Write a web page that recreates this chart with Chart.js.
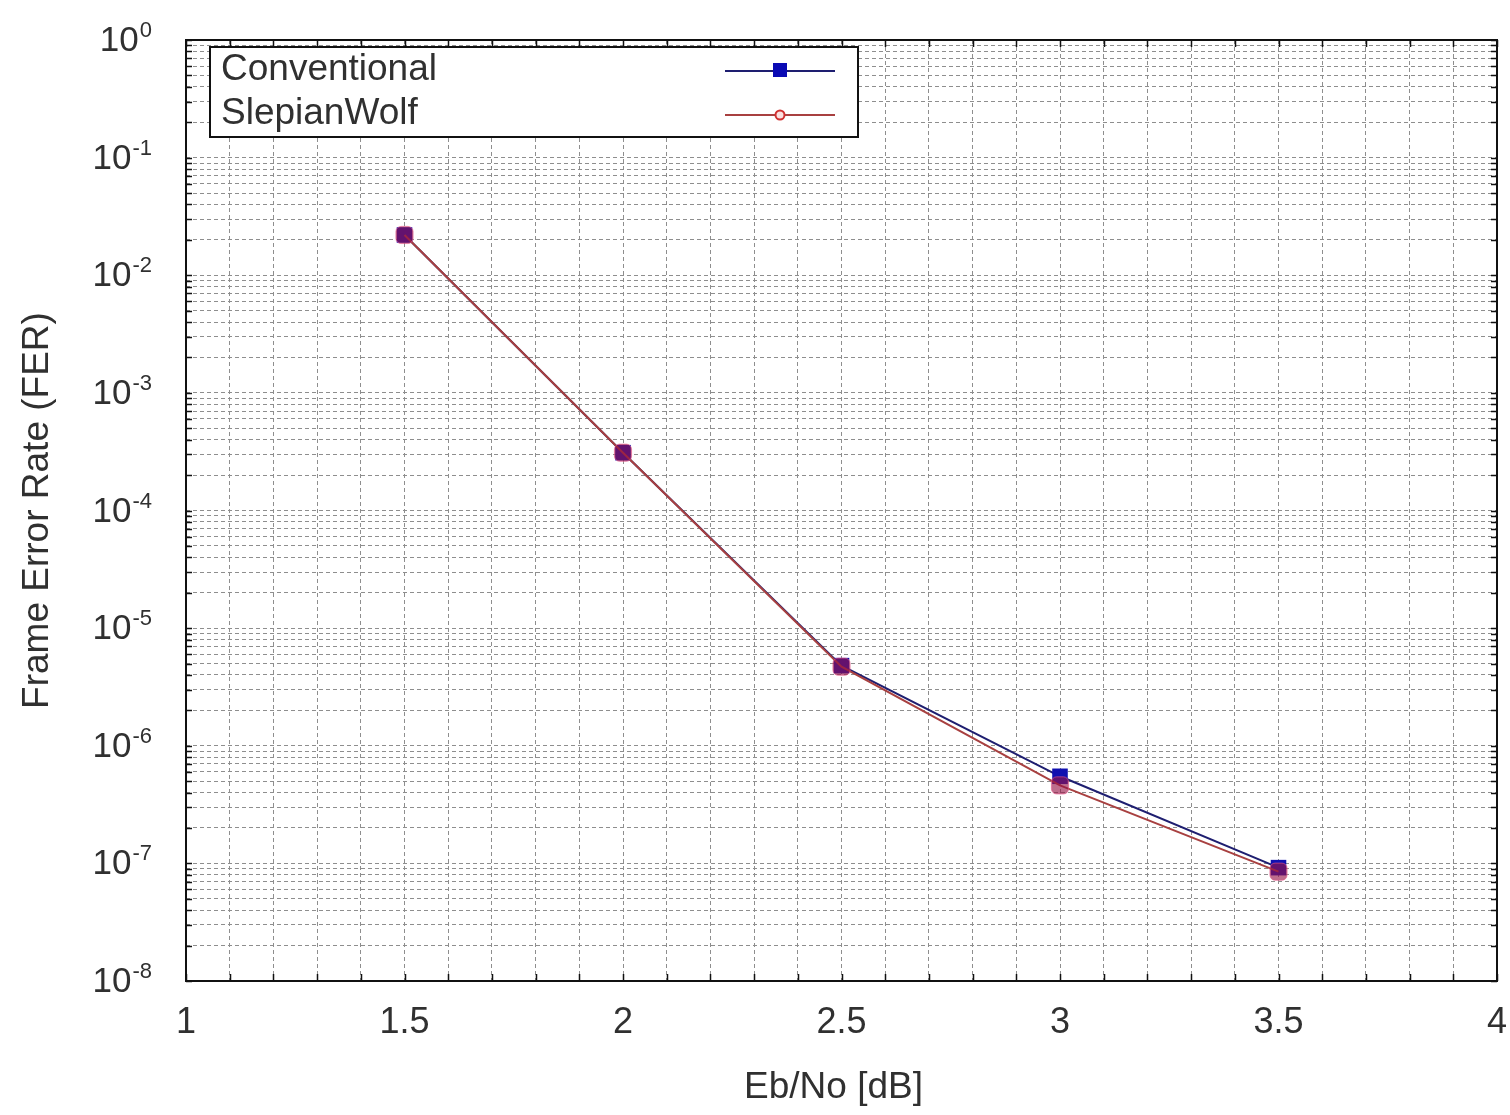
<!DOCTYPE html>
<html>
<head>
<meta charset="utf-8">
<script src="https://cdn.jsdelivr.net/npm/chart.js@4/dist/chart.umd.min.js"></script>
<style>
html,body{margin:0;padding:0;background:#fff;}
#wrap{width:1510px;height:1115px;position:relative;}
canvas{display:block;}
</style>
</head>
<body>
<div id="wrap"><canvas id="c" width="1510" height="1115"></canvas></div>
<script>
// ---- data ----
const ebno = [1.5, 2.0, 2.5, 3.0, 3.5];
const conventional = [2.2e-2, 3.1e-4, 4.8e-6, 5.5e-7, 9.2e-8];
const slepianWolf = [2.2e-2, 3.1e-4, 4.7e-6, 4.6e-7, 8.5e-8];
const seriesNames = ['Conventional', 'SlepianWolf'];
const xTickLabels = ['1', '1.5', '2', '2.5', '3', '3.5', '4'];
const yExponents = [0, -1, -2, -3, -4, -5, -6, -7, -8];
const xTitle = 'Eb/No [dB]';
const yTitle = 'Frame Error Rate (FER)';

const FONT = "'Liberation Sans', Arial, sans-serif";
const TEXT = '#303030';

const xMin = 1, xMax = 4;
const xGridValues = [];
for (let i = 10; i <= 40; i++) xGridValues.push(i / 10);
const yGridValues = [];
for (let e = -8; e <= 0; e++) {
  for (let m = 1; m <= 9; m++) {
    const v = m * Math.pow(10, e);
    if (v <= 1.0000001) yGridValues.push(v);
  }
}

const decorPlugin = {
  id: 'decor',
  beforeDraw(chart) {
    const ctx = chart.ctx;
    ctx.save();
    ctx.fillStyle = '#fff';
    ctx.fillRect(0, 0, chart.width, chart.height);
    ctx.restore();
  },
  afterDatasetsDraw(chart) {
    const ctx = chart.ctx;
    const a = chart.chartArea;
    const xs = chart.scales.x, ys = chart.scales.y;
    ctx.save();
    // frame
    ctx.strokeStyle = '#111';
    ctx.lineWidth = 2;
    ctx.strokeRect(a.left, a.top, a.right - a.left, a.bottom - a.top);
    // inward ticks
    ctx.lineWidth = 1.5;
    xGridValues.forEach(v => {
      const px = Math.round(xs.getPixelForValue(v)) + 0.5;
      ctx.beginPath();
      ctx.moveTo(px, a.bottom); ctx.lineTo(px, a.bottom - 7);
      ctx.moveTo(px, a.top); ctx.lineTo(px, a.top + 7);
      ctx.stroke();
    });
    yGridValues.forEach(v => {
      const py = Math.round(ys.getPixelForValue(v)) + 0.5;
      ctx.beginPath();
      ctx.moveTo(a.left, py); ctx.lineTo(a.left + 6, py);
      ctx.moveTo(a.right, py); ctx.lineTo(a.right - 6, py);
      ctx.stroke();
    });

    // legend box
    const lx = a.left + 24, ly = a.top + 7, lw = 648, lh = 90;
    ctx.fillStyle = '#fff';
    ctx.fillRect(lx, ly, lw, lh);
    ctx.strokeStyle = '#111';
    ctx.lineWidth = 2;
    ctx.strokeRect(lx, ly, lw, lh);
    ctx.font = '37px ' + FONT;
    ctx.textBaseline = 'middle';
    ctx.textAlign = 'left';
    chart.data.datasets.forEach((ds, i) => {
      const ry = ly + 23 + i * 44;
      ctx.fillStyle = TEXT;
      ctx.fillText(ds.label, lx + 11, ry);
      ctx.strokeStyle = ds.borderColor;
      ctx.lineWidth = 2;
      ctx.beginPath();
      ctx.moveTo(lx + 515, ry + 1); ctx.lineTo(lx + 625, ry + 1);
      ctx.stroke();
      const mx = lx + 570;
      if (i === 0) {
        ctx.fillStyle = '#0a0ab4';
        ctx.fillRect(mx - 7, ry - 7, 14, 14);
      } else {
        ctx.beginPath();
        ctx.arc(mx, ry + 1, 4.5, 0, Math.PI * 2);
        ctx.fillStyle = '#fbe0e0';
        ctx.fill();
        ctx.strokeStyle = '#d03030';
        ctx.lineWidth = 2;
        ctx.stroke();
      }
    });
    ctx.restore();
  },
  afterDraw(chart) {
    const ctx = chart.ctx;
    const a = chart.chartArea;
    const xs = chart.scales.x, ys = chart.scales.y;
    ctx.save();
    ctx.fillStyle = TEXT;
    // y tick labels 10^n
    yExponents.forEach(e => {
      const py = ys.getPixelForValue(Math.pow(10, e));
      const expStr = String(e);
      ctx.font = '22px ' + FONT;
      const ew = ctx.measureText(expStr).width;
      const right = a.left - 34;
      ctx.textAlign = 'left';
      ctx.textBaseline = 'alphabetic';
      ctx.fillText(expStr, right - ew, py - 3);
      ctx.font = '35px ' + FONT;
      ctx.textAlign = 'right';
      ctx.fillText('10', right - ew - 1, py + 11);
    });
    // x tick labels
    ctx.font = '36px ' + FONT;
    ctx.textAlign = 'center';
    ctx.textBaseline = 'middle';
    xTickLabels.forEach(t => {
      const px = xs.getPixelForValue(parseFloat(t));
      ctx.fillText(t, px, a.bottom + 42);
    });
    // titles
    ctx.font = '37px ' + FONT;
    ctx.fillText(xTitle, (a.left + a.right) / 2 - 8, a.bottom + 107);
    ctx.save();
    ctx.translate(38, (a.top + a.bottom) / 2);
    ctx.rotate(-Math.PI / 2);
    ctx.fillText(yTitle, 0, 0);
    ctx.restore();
    ctx.restore();
  }
};

const chart = new Chart(document.getElementById('c'), {
  type: 'line',
  data: {
    datasets: [
      {
        label: seriesNames[0],
        data: ebno.map((x, i) => ({ x: x, y: conventional[i] })),
        borderColor: '#1e1e70',
        backgroundColor: '#0a0ab4',
        borderWidth: 2,
        pointStyle: 'rect',
        pointRadius: 11,
        pointBorderWidth: 0,
        pointBackgroundColor: '#1010b0',
        pointBorderColor: '#1010b0',
        tension: 0,
        order: 2
      },
      {
        label: seriesNames[1],
        data: ebno.map((x, i) => ({ x: x, y: slepianWolf[i] })),
        borderColor: '#a84040',
        backgroundColor: 'rgba(160,20,60,0.6)',
        borderWidth: 2,
        pointStyle: 'rectRounded',
        pointRadius: 10,
        pointBorderWidth: 1,
        pointBackgroundColor: 'rgba(150,20,70,0.62)',
        pointBorderColor: 'rgba(230,90,140,0.6)',
        tension: 0,
        order: 1
      }
    ]
  },
  options: {
    responsive: false,
    animation: false,
    devicePixelRatio: 1,
    layout: { padding: { left: 186, top: 40, right: 13, bottom: 134 } },
    plugins: { legend: { display: false }, tooltip: { enabled: false } },
    scales: {
      x: {
        type: 'linear',
        min: xMin, max: xMax,
        afterBuildTicks: s => { s.ticks = xGridValues.map(v => ({ value: v })); },
        afterFit: s => { s.height = 0; },
        ticks: { display: false, autoSkip: false },
        grid: { color: '#8e8e8e', lineWidth: 1, drawTicks: false },
        border: { display: false, dash: [4, 3] },
        title: { display: false }
      },
      y: {
        type: 'logarithmic',
        min: 1e-8, max: 1,
        afterBuildTicks: s => { s.ticks = yGridValues.map(v => ({ value: v })); },
        afterFit: s => { s.width = 0; },
        ticks: { display: false, autoSkip: false },
        grid: { color: '#8e8e8e', lineWidth: 1, drawTicks: false },
        border: { display: false, dash: [4, 3] },
        title: { display: false }
      }
    }
  },
  plugins: [decorPlugin]
});
</script>
</body>
</html>
